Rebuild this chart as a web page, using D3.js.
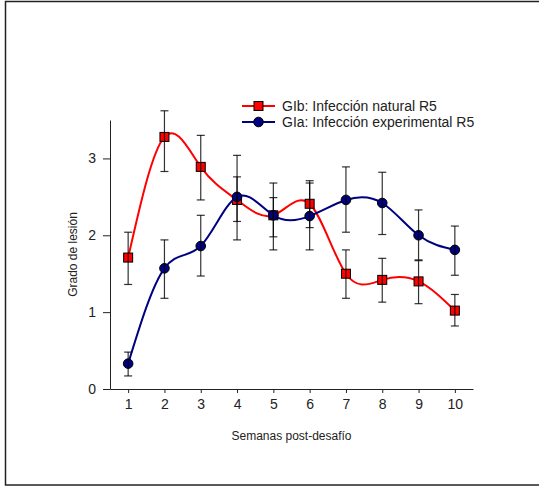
<!DOCTYPE html>
<html>
<head>
<meta charset="utf-8">
<script src="https://cdn.jsdelivr.net/npm/d3@7"></script>
<style>
  body { margin: 0; background: #fff; }
  svg { display: block; font-family: "Liberation Sans", Arial, sans-serif; }
</style>
</head>
<body>
<div id="chart"></div>
<script>
// weeks after challenge
const weeks = [1, 2, 3, 4, 5, 6, 7, 8, 9, 10];
const yTicks = [0, 1, 2, 3];

// GIb: natural infection R5
const gibMean  = [1.71, 3.28, 2.89, 2.46, 2.26, 2.41, 1.50, 1.42, 1.40, 1.02];
const gibUpper = [2.04, 3.62, 3.30, 2.76, 2.49, 2.71, 1.81, 1.70, 1.67, 1.23];
const gibLower = [1.36, 2.83, 2.46, 2.18, 1.98, 2.10, 1.18, 1.13, 1.11, 0.82];

// GIa: experimental infection R5
const giaMean  = [0.33, 1.57, 1.86, 2.50, 2.26, 2.25, 2.46, 2.42, 2.00, 1.81];
const giaUpper = [0.48, 1.94, 2.26, 3.04, 2.68, 2.68, 2.89, 2.82, 2.33, 2.12];
const giaLower = [0.17, 1.18, 1.47, 1.94, 1.81, 1.81, 2.04, 2.01, 1.68, 1.48];

const seriesNames = ['GIb: Infección natural R5', 'GIa: Infección experimental R5'];

const width = 539, height = 486;
const margin = { top: 120, right: 66, bottom: 97, left: 110 };

const svg = d3.select('#chart').append('svg')
  .attr('width', width)
  .attr('height', height);

// outer frame
svg.append('rect')
  .attr('x', 5.5).attr('y', 1.5)
  .attr('width', width + 10).attr('height', 483.5)
  .attr('fill', 'none')
  .attr('stroke', '#222')
  .attr('stroke-width', 1.5);

const x = d3.scaleLinear().domain([0.5, 10.5]).range([margin.left, width - margin.right]);
const y = d3.scaleLinear().domain([0, 3.5]).range([height - margin.bottom, margin.top]);

svg.append('g')
  .attr('class', 'axis axis-x')
  .attr('transform', `translate(0, ${y(0)})`)
  .call(d3.axisBottom(x).tickValues(weeks).tickFormat(d3.format('d'))
    .tickSize(4).tickPadding(6).tickSizeOuter(0));

svg.append('g')
  .attr('class', 'axis axis-y')
  .attr('transform', `translate(${x(0.5)}, 0)`)
  .call(d3.axisLeft(y).tickValues(yTicks).tickFormat(d3.format('d'))
    .tickSize(7).tickPadding(7).tickSizeOuter(0));

svg.selectAll('.axis path, .axis line').attr('stroke', '#222').attr('stroke-width', 1);
svg.selectAll('.axis text')
  .attr('fill', '#222')
  .style('font-family', '"Liberation Sans", Arial, sans-serif')
  .style('font-size', '14px');

svg.append('text')
  .attr('x', (x(0.5) + x(10.5)) / 2)
  .attr('y', 440)
  .attr('text-anchor', 'middle')
  .attr('fill', '#222')
  .style('font-size', '12px')
  .text('Semanas post-desafío');

svg.append('text')
  .attr('transform', `translate(77, ${(y(0) + y(3.5)) / 2}) rotate(-90)`)
  .attr('text-anchor', 'middle')
  .attr('fill', '#222')
  .style('font-size', '12px')
  .text('Grado de lesión');

const series = [
  { name: seriesNames[0], mean: gibMean, upper: gibUpper, lower: gibLower, color: '#ff0000', shape: 'square' },
  { name: seriesNames[1], mean: giaMean, upper: giaUpper, lower: giaLower, color: '#000080', shape: 'circle' }
];

const line = d3.line()
  .x((d, i) => x(weeks[i]))
  .y(d => y(d))
  .curve(d3.curveNatural);

function drawMarker(g, shape, color, cx, cy) {
  if (shape === 'square') {
    g.append('rect')
      .attr('x', cx - 4.5).attr('y', cy - 4.5)
      .attr('width', 9).attr('height', 9)
      .attr('fill', color)
      .attr('stroke', '#000').attr('stroke-width', 1);
  } else {
    g.append('circle')
      .attr('cx', cx).attr('cy', cy).attr('r', 4.8)
      .attr('fill', color)
      .attr('stroke', '#000').attr('stroke-width', 1);
  }
}

series.forEach(s => {
  svg.append('path')
    .datum(s.mean)
    .attr('fill', 'none')
    .attr('stroke', s.color)
    .attr('stroke-width', 2)
    .attr('d', line);

  const g = svg.append('g').attr('class', 'markers');
  s.mean.forEach((v, i) => drawMarker(g, s.shape, s.color, x(weeks[i]), y(v)));
});

// error bars on top
series.forEach(s => {
  const eb = svg.append('g').attr('class', 'errorbars')
    .attr('stroke', '#000').attr('stroke-opacity', 0.8).attr('stroke-width', 1.2);
  weeks.forEach((w, i) => {
    const cx = x(w);
    eb.append('line').attr('x1', cx).attr('x2', cx).attr('y1', y(s.upper[i])).attr('y2', y(s.lower[i]));
    eb.append('line').attr('x1', cx - 4).attr('x2', cx + 4).attr('y1', y(s.upper[i])).attr('y2', y(s.upper[i]));
    eb.append('line').attr('x1', cx - 4).attr('x2', cx + 4).attr('y1', y(s.lower[i])).attr('y2', y(s.lower[i]));
  });
});

// legend
const legend = svg.append('g').attr('class', 'legend');
series.forEach((s, i) => {
  const ly = 106 + i * 16;
  legend.append('line')
    .attr('x1', 242).attr('x2', 275).attr('y1', ly).attr('y2', ly)
    .attr('stroke', s.color).attr('stroke-width', 2);
  drawMarker(legend, s.shape, s.color, 258.5, ly);
  legend.append('text')
    .attr('x', 282).attr('y', ly + 5)
    .attr('fill', '#222')
    .style('font-size', '14px')
    .text(s.name);
});
</script>
</body>
</html>
